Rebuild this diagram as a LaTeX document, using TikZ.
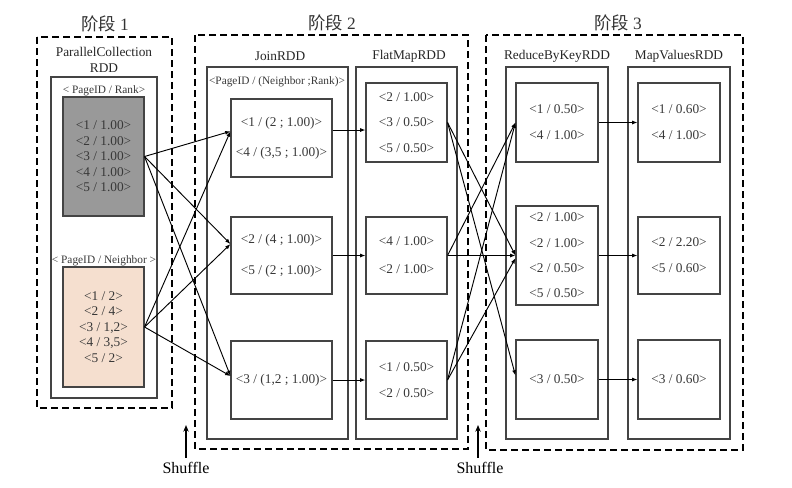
\documentclass[tikz,border=0pt]{standalone}
\usepackage{fontspec}
\setmainfont{Liberation Serif}
\newfontfamily\cjk{Noto Sans CJK SC}
\usetikzlibrary{arrows.meta,positioning}

\definecolor{boxline}{HTML}{444444}
\definecolor{txt}{HTML}{383838}
\definecolor{rankfill}{HTML}{999999}
\definecolor{nbrfill}{HTML}{F5DFCF}

\tikzset{
  stage/.style={draw=black, line width=1pt, dash pattern=on 5.25pt off 3pt},
  rdd/.style={draw=boxline, line width=0.9pt},
  part/.style={draw=boxline, line width=0.8pt, inner sep=0pt, align=center, text=txt,
    minimum width=61.5pt, minimum height=58.5pt, font=\fontsize{10}{19.5}\selectfont},
  stagetitle/.style={font=\fontsize{13}{15}\selectfont, text=black!80},
  rddname/.style={font=\fontsize{10}{12}\selectfont, align=center, text=black!85},
  keyname/.style={font=\fontsize{8.5}{10}\selectfont, text=txt},
  flow/.style={->, line width=0.7pt},
  shuffle/.style={-{Stealth[length=5pt,width=4pt]}, line width=1.5pt}
}

\begin{document}
\begin{tikzpicture}[x=0.75pt, y=-0.75pt, >={Latex[length=4pt,width=3pt]}, node distance=91.5pt, on grid]
            \useasboundingbox (0,0) rectangle (792,487);

            % stages
            \draw[stage] (37,37) rectangle (172,408);
            \draw[stage] (195,35) rectangle (468,449);
            \draw[stage] (486,35) rectangle (743,450);
            \node[stagetitle] (t_1) at (105,24) {{\cjk 阶段} 1};
            \node[stagetitle] (t_2) at (332,23) {{\cjk 阶段} 2};
            \node[stagetitle] (t_3) at (618,23) {{\cjk 阶段} 3};

            % rdds
            \draw[rdd] (51,77) rectangle (157,398);
            \draw[rdd] (207,67) rectangle (348,439);
            \draw[rdd] (356,67) rectangle (457,439);
            \draw[rdd] (506,67) rectangle (608,439);
            \draw[rdd] (628,67) rectangle (730,439);
            \node[rddname] (pc) at (104,60) {ParallelCollection\\RDD};
            \node[rddname] (join) at (280,56) {JoinRDD};
            \node[rddname] (flatmap) at (409,56) {FlatMapRDD};
            \node[rddname] (reduce) at (557,56) {ReduceByKeyRDD};
            \node[rddname] (mapval) at (679,56) {MapValuesRDD};
            \node[keyname] (k_rank) at (104,91) {< PageID / Rank>};
            \node[keyname] (k_nbr) at (104,261) {< PageID / Neighbor >};
            \node[keyname] (k_join) at (277,82) {<PageID / (Neighbor ;Rank)>};

            % partitions
            \node[part, fill=rankfill, minimum width=60.75pt, minimum height=89.25pt,
                font=\fontsize{10}{11.6}\selectfont] (rank) at (103.5,156.5)
                {<1 / 1.00>\\<2 / 1.00>\\<3 / 1.00>\\<4 / 1.00>\\<5 / 1.00>};
            \node[part, fill=nbrfill, minimum width=60.75pt, minimum height=90pt,
                font=\fontsize{10}{11.6}\selectfont] (nbr) at (103.5,327)
                {<1 / 2>\\<2 / 4>\\<3 / 1,2>\\<4 / 3,5>\\<5 / 2>};

            \node[part, minimum width=75.75pt, font=\fontsize{10}{22.5}\selectfont] (j_1) at (281.5,138)
                {<1 / (2 ; 1.00)>\\<4 / (3,5 ; 1.00)>};
            \node[part, minimum width=75.75pt, minimum height=57.75pt, font=\fontsize{10}{23}\selectfont] (j_2) at (281.5,255.5)
                {<2 / (4 ; 1.00)>\\<5 / (2 ; 1.00)>};
            \node[part, minimum width=75.75pt] (j_3) at (281.5,380) {<3 / (1,2 ; 1.00)>};

            \node[part, minimum width=60.75pt, minimum height=59.25pt, font=\fontsize{10}{19}\selectfont] (fm_1) at (406.5,122.5)
                {<2 / 1.00>\\<3 / 0.50>\\<5 / 0.50>};
            \node[part, minimum width=60.75pt, minimum height=57.75pt, font=\fontsize{10}{21}\selectfont] (fm_2) at (406.5,255.5)
                {<4 / 1.00>\\<2 / 1.00>};
            \node[part, minimum width=60.75pt] (fm_3) at (406.5,380) {<1 / 0.50>\\<2 / 0.50>};

            \node[part, minimum height=59.25pt] (rbk_1) at (557,122.5) {<1 / 0.50>\\<4 / 1.00>};
            \node[part, minimum height=74.25pt, font=\fontsize{10}{19}\selectfont] (rbk_2) at (557,255.5)
                {<2 / 1.00>\\<2 / 1.00>\\<2 / 0.50>\\<5 / 0.50>};
            \node[part, minimum height=59.25pt] (rbk_3) at (557,379.5) {<3 / 0.50>};

            \node[part, minimum height=59.25pt] (mv_1) [right=of rbk_1] {<1 / 0.60>\\<4 / 1.00>};
            \node[part, minimum height=57.75pt] (mv_2) [right=of rbk_2] {<2 / 2.20>\\<5 / 0.60>};
            \node[part, minimum height=59.25pt] (mv_3) [right=of rbk_3] {<3 / 0.60>};

            % shuffles
            \node[font=\fontsize{12}{14}\selectfont] (sh_1) at (186,468) {Shuffle};
            \node[font=\fontsize{12}{14}\selectfont] (sh_2) at (480,468) {Shuffle};
            \coordinate (sh_1_top) at (186,425);
            \coordinate (sh_2_top) at (478,425);
            \draw[shuffle] (sh_1.north) -- (sh_1_top);
            \draw[shuffle] (sh_2.north -| sh_2_top) -- (sh_2_top);

            \path[flow]
                (rank.east)
                    edge ([yshift=5pt]j_1.west)
                    edge ([yshift=8.6pt]j_2.west)
                    edge ([yshift=3pt]j_3.west)
                (nbr.east)
                    edge ([yshift=5pt]j_1.west)
                    edge ([yshift=8.6pt]j_2.west)
                    edge ([yshift=3pt]j_3.west)
                ([yshift=6pt]j_1.east)
                    edge ([yshift=6pt]j_1.east -| fm_1.west)
                (j_2) edge (fm_2)
                (j_3) edge (fm_3)
                (fm_1.east)
                    edge (rbk_2.west)
                    edge ([yshift=3pt]rbk_3.west)
                (fm_2.east)
                    edge (rbk_1.west)
                    edge (rbk_2.west)
                (fm_3.east)
                    edge (rbk_1.west)
                    edge ([yshift=-2pt]rbk_2.west)
                (rbk_1) edge (mv_1)
                (rbk_2) edge (mv_2)
                (rbk_3) edge (mv_3);
        \end{tikzpicture}
\end{document}
